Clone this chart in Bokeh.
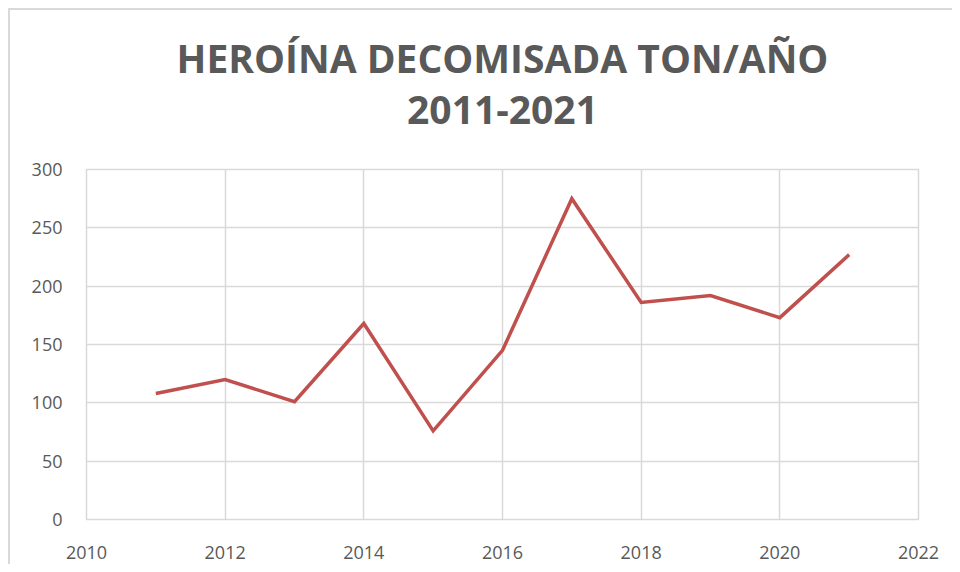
from bokeh.plotting import figure
from bokeh.models import Title, FixedTicker
from bokeh.embed import file_html
from bokeh.resources import INLINE

years = [2011, 2012, 2013, 2014, 2015, 2016, 2017, 2018, 2019, 2020, 2021]
tons = [108, 120, 101, 168, 76, 145, 275, 186, 192, 173, 227]
x_ticks = [2010, 2012, 2014, 2016, 2018, 2020, 2022]
y_ticks = [0, 50, 100, 150, 200, 250, 300]
title_line1 = "HEROÍNA DECOMISADA TON/AÑO"
title_line2 = "2011-2021"

FONT = "Open Sans"
GRAY = "#595959"
GRID = "#d9d9d9"

p = figure(width=944, height=556, output_backend="svg", toolbar_location=None,
           x_range=(2010, 2022), y_range=(0, 300),
           min_border_left=76, min_border_right=36, min_border_top=159, min_border_bottom=47)
p.outline_line_color = GRID
p.outline_line_width = 1.5
p.background_fill_color = "white"
p.border_fill_color = "white"

p.line(years, tons, line_color="#c0504d", line_width=3.5, line_join="miter")

for ax in (p.xaxis, p.yaxis):
    ax.axis_line_color = None
    ax.major_tick_line_color = None
    ax.minor_tick_line_color = None
    ax.major_label_text_font = FONT
    ax.major_label_text_font_size = "18px"
    ax.major_label_text_color = GRAY

p.xaxis.ticker = FixedTicker(ticks=x_ticks)
p.yaxis.ticker = FixedTicker(ticks=y_ticks)
p.xaxis.major_label_standoff = 20
p.yaxis.major_label_standoff = 18

p.xgrid.ticker = FixedTicker(ticks=x_ticks)
p.ygrid.ticker = FixedTicker(ticks=y_ticks)
p.xgrid.grid_line_color = GRID
p.ygrid.grid_line_color = GRID
p.xgrid.grid_line_width = 1.5
p.ygrid.grid_line_width = 1.5

# spacer between plot frame and the two title lines
spacer = Title(text=" ", text_font=FONT, text_font_size="25px", standoff=0)
t2 = Title(text=title_line2, align="center", offset=-13, text_font=FONT, text_font_size="39px",
           text_font_style="bold", text_color=GRAY, standoff=20)
t1 = Title(text=title_line1, align="center", offset=-13, text_font=FONT, text_font_size="39px",
           text_font_style="bold", text_color=GRAY, standoff=0)
p.add_layout(spacer, "above")
p.add_layout(t2, "above")
p.add_layout(t1, "above")

p.styles = {"border-left": "2px solid #d9d9d9", "border-top": "2px solid #d9d9d9",
            "margin-left": "8px", "margin-top": "8px"}

open("out.html", "w").write(file_html(p, INLINE))
